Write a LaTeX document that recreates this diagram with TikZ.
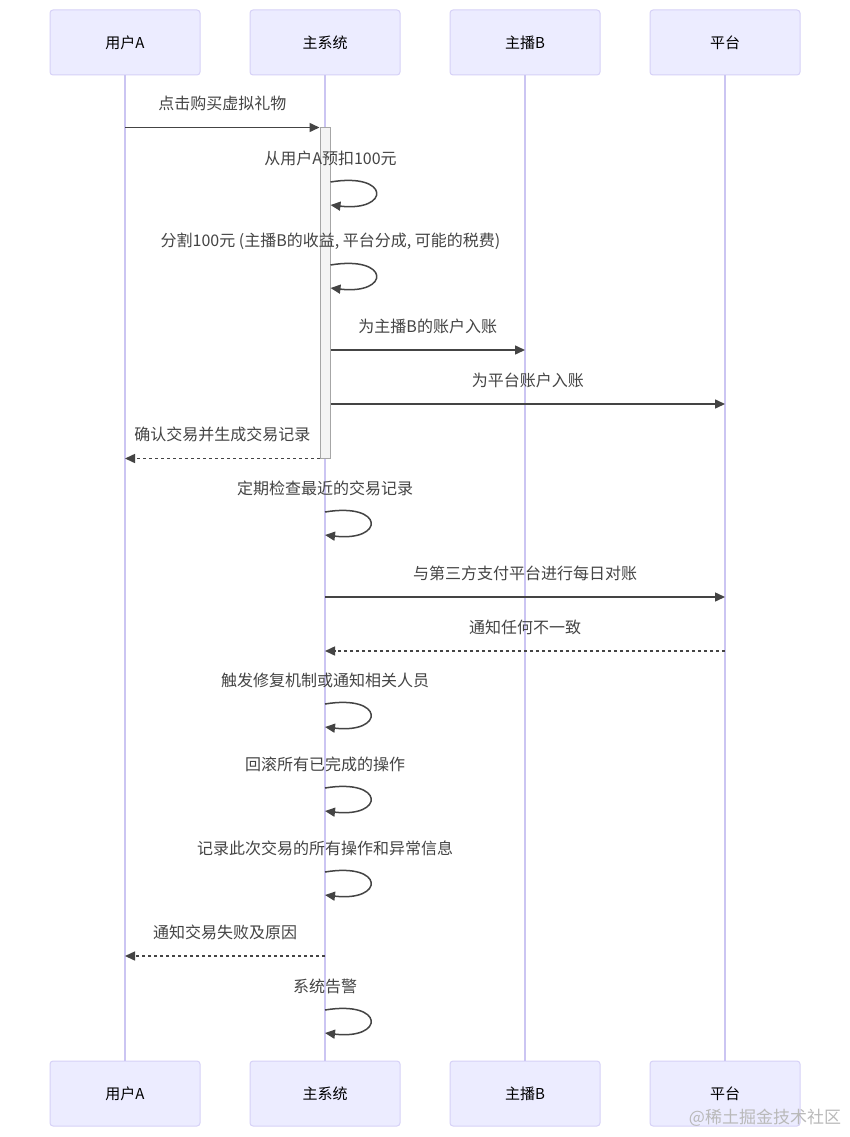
\documentclass[tikz,border=0pt]{standalone}
\usepackage{fontspec}
\newfontfamily\cjk{Noto Sans CJK SC}
\usetikzlibrary{arrows.meta}
\definecolor{actfill}{HTML}{ECECFF}
\definecolor{actline}{HTML}{D6D1F7}
\definecolor{lifeline}{HTML}{CBC5F2}
\definecolor{msgline}{HTML}{444444}
\definecolor{barfill}{HTML}{F4F4F4}

\begin{document}
\begin{tikzpicture}[x=1pt,y=-1pt,>={Triangle[length=10pt,width=9pt]},
    actor/.style={draw=actline,fill=actfill,line width=1pt,rounded corners=3pt,minimum width=150pt,minimum height=65pt,font=\cjk\fontsize{15}{18}\selectfont},
    life/.style={draw=lifeline,line width=1.3pt},
    msg/.style={->,draw=msgline,line width=1.5pt},
    reply/.style={msg,dash pattern=on 3pt off 3pt},
    lbl/.style={font=\cjk\fontsize{16}{19}\selectfont,text=msgline,yshift=24pt}]
    \fill[white] (0,0) rectangle (850,1137);
    \useasboundingbox (0,0) rectangle (850,1137);

    % actors, top and bottom
    \node[actor] (uA) at (125,42.5) {用户A};
    \node[actor] (sys) at (325,42.5) {主系统};
    \node[actor] (host) at (525,42.5) {主播B};
    \node[actor] (plat) at (725,42.5) {平台};
    \node[actor] (uAb) at (125,1093.5) {用户A};
    \node[actor] (sysb) at (325,1093.5) {主系统};
    \node[actor] (hostb) at (525,1093.5) {主播B};
    \node[actor] (platb) at (725,1093.5) {平台};

    \draw[life] (uA) -- (uAb);
    \draw[life] (sys) -- (sysb);
    \draw[life] (host) -- (hostb);
    \draw[life] (plat) -- (platb);

    \node[draw=gray!70,fill=barfill,line width=1pt,minimum width=10pt,minimum height=330pt,inner sep=0pt] (act) at (325,293) {};

    % messages
    \path (uA |- act.north) edge[msg] node[lbl]{点击购买虚拟礼物} (act.north west);
    \draw[msg] (act.east |- 0,182) .. controls +(60,-10) and +(60,7) .. node[lbl,pos=0]{从用户A预扣100元} (act.east |- 0,205);
    \draw[msg] (act.east |- 0,265) .. controls +(60,-10) and +(60,7) .. node[lbl,pos=0]{分割100元 (主播B的收益, 平台分成, 可能的税费)} (act.east |- 0,288);
    \path (act.east |- 0,350) edge[msg] node[lbl]{为主播B的账户入账} (host |- 0,350);
    \path (act.east |- 0,404) edge[msg] node[lbl]{为平台账户入账} (plat |- 0,404);
    \path (act.south west) edge[reply] node[lbl]{确认交易并生成交易记录} (uA |- act.south);
    \path (sys |- 0,597) edge[msg] node[lbl]{与第三方支付平台进行每日对账} (plat |- 0,597);
    \path (plat |- 0,651) edge[reply] node[lbl]{通知任何不一致} (sys |- 0,651);
    \path (sys |- 0,956) edge[reply] node[lbl]{通知交易失败及原因} (uA |- 0,956);

    % self messages of the main system
    \foreach \y/\txt [evaluate=\y as \yy using \y+23] in {512/定期检查最近的交易记录,704/触发修复机制或通知相关人员,788/回滚所有已完成的操作,872/记录此次交易的所有操作和异常信息,1010/系统告警}
        \draw[msg] (sys |- 0,\y) .. controls +(60,-10) and +(60,7) .. node[lbl,pos=0]{\txt} (sys |- 0,\yy);

    \node[font=\cjk\fontsize{17}{20}\selectfont,text=gray!55] (mark) at (765,1118) {@稀土掘金技术社区};
\end{tikzpicture}
\end{document}
